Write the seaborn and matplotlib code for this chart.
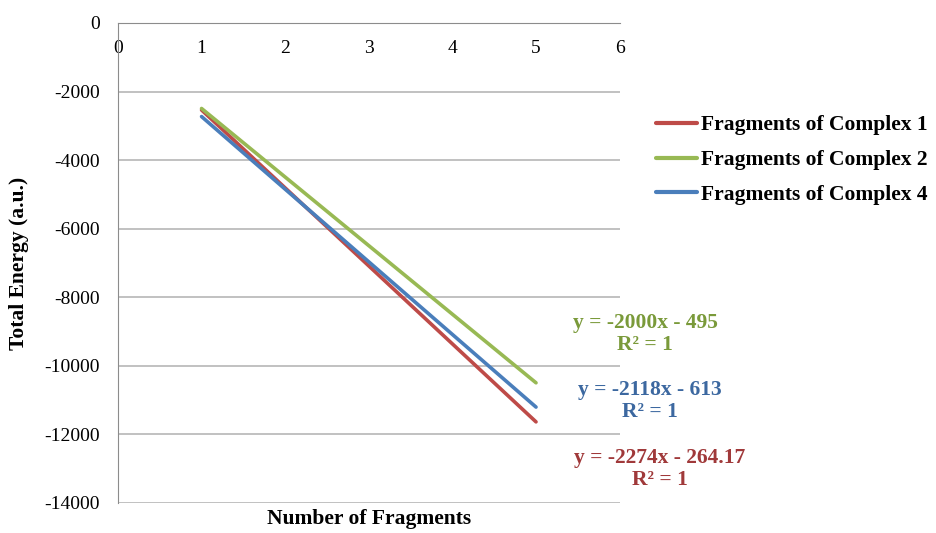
import matplotlib
matplotlib.use("Agg")
import matplotlib.pyplot as plt
import pandas as pd
import seaborn as sns
from matplotlib.lines import Line2D

# Data (points on the fitted trend lines)
fragments = [1, 2, 3, 4, 5]
complex_1 = [-2538.17, -4812.17, -7086.17, -9360.17, -11634.17]
complex_2 = [-2495, -4495, -6495, -8495, -10495]
complex_4 = [-2731, -4849, -6967, -9085, -11203]

series_names = ["Fragments of Complex 1", "Fragments of Complex 2", "Fragments of Complex 4"]
equations = ["y = -2274x - 264.17\nR² = 1", "y = -2000x - 495\nR² = 1", "y = -2118x - 613\nR² = 1"]

line_colors = ["#BE4B48", "#98B954", "#4A7EBB"]
text_colors = ["#A0393A", "#7A9A3A", "#3C68A0"]

df = pd.DataFrame({
    "x": fragments * 3,
    "y": complex_1 + complex_2 + complex_4,
    "series": [series_names[0]] * 5 + [series_names[1]] * 5 + [series_names[2]] * 5,
})

sns.set_style("white")
plt.rcParams["font.family"] = ["Liberation Serif", "DejaVu Serif"]
plt.rcParams["axes.unicode_minus"] = False
plt.rcParams["text.color"] = "black"
plt.rcParams["axes.labelcolor"] = "black"
plt.rcParams["xtick.labelcolor"] = "black"
plt.rcParams["ytick.labelcolor"] = "black"

fig = plt.figure(figsize=(9.36, 5.33), dpi=100)
ax = fig.add_axes([0.126, 0.0563, 0.536, 0.9007])

sns.lineplot(data=df, x="x", y="y", hue="series", palette=line_colors,
             linewidth=2.6, ax=ax, legend=False)

ax.set_xlim(0, 6)
ax.set_ylim(-14000, 0)
ax.set_xticks(range(0, 7))
ax.set_yticks(range(-14000, 1, 2000))
ax.yaxis.grid(True, color="#B0B0B0", linewidth=1.1)
ax.set_axisbelow(True)

grey = "#8C8C8C"
for side in ["top", "right"]:
    ax.spines[side].set_visible(False)
ax.spines["left"].set_color(grey)
ax.spines["bottom"].set_color(grey)
ax.spines["bottom"].set_position(("data", 0))

ax.tick_params(axis="x", direction="out", length=5, color=grey, labelsize=14, pad=7)
ax.tick_params(axis="y", direction="out", length=5, color=grey, labelsize=14, pad=8)

ax.set_xlabel("Number of Fragments", fontsize=15.5, fontweight="bold")
ax.set_ylabel("Total Energy (a.u.)", fontsize=15.5, fontweight="bold")
ax.xaxis.set_label_coords(0.5, -0.012)
ax.yaxis.set_label_coords(-0.178, 0.5)

# trend line equations
eq_pos = [(660, 469), (645, 334), (650, 401)]
for (px, py), txt, col in zip(eq_pos, equations, text_colors):
    fig.text(px / 936, 1 - py / 533, txt, color=col, fontsize=15.5, fontweight="bold",
             ha="center", va="center", linespacing=1.15)

handles = [Line2D([0], [0], color=c, linewidth=3) for c in line_colors]
fig.legend(handles, series_names, loc="center left", bbox_to_anchor=(656 / 936, 1 - 160 / 533),
           frameon=False, prop={"size": 15.5, "weight": "bold"}, handlelength=1.9,
           handletextpad=0.2, labelspacing=0.68, borderaxespad=0, borderpad=0)

fig.savefig("out.png", dpi=100)
